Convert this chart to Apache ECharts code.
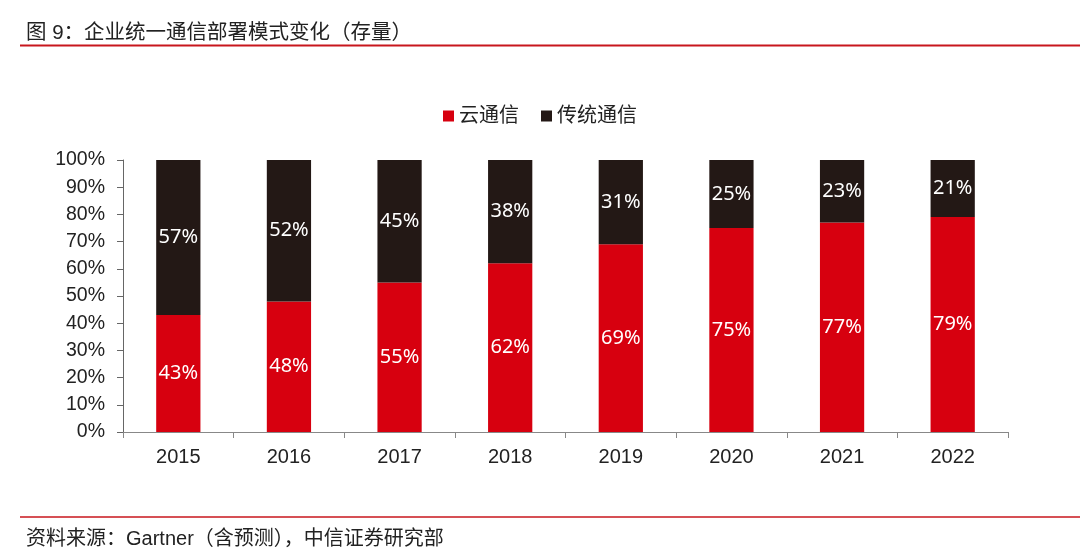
<!DOCTYPE html>
<html><head><meta charset="utf-8">
<script src="https://cdn.jsdelivr.net/npm/echarts@6/dist/echarts.min.js"></script>
<style>html,body{margin:0;padding:0;background:#fff}#c{width:1080px;height:557px}</style>
</head><body><div id="c"></div>
<script>
const categories = ['2015','2016','2017','2018','2019','2020','2021','2022'];
const cloudComm = [43,48,55,62,69,75,77,79];
const traditionalComm = [57,52,45,38,31,25,23,21];
const seriesNames = ['云通信','传统通信'];
const titleText = '图 9：企业统一通信部署模式变化（存量）';
const sourceText = '资料来源：Gartner（含预测），中信证券研究部';

const chart = echarts.init(document.getElementById('c'));
const cjk = '"Liberation Sans", "Noto Sans CJK SC", sans-serif';
const labelStyle = {show:true, position:'inside', color:'#fff', fontSize:20, fontFamily:'"Noto Sans", "Open Sans", sans-serif', formatter: p => p.value + '%'};
chart.setOption({
  animation:false,
  title:[
    {text:titleText, left:21, top:18, textStyle:{fontSize:20.5, fontWeight:'normal', color:'#222', fontFamily:cjk}},
    {text:sourceText, left:21, top:524, textStyle:{fontSize:20, fontWeight:'normal', color:'#222', fontFamily:cjk}}
  ],
  graphic:[
    {type:'line', shape:{x1:20,y1:45.5,x2:1080,y2:45.5}, style:{stroke:'#c8161d', lineWidth:2}},
    {type:'line', shape:{x1:20,y1:517,x2:1080,y2:517}, style:{stroke:'#c8161d', lineWidth:1.5}}
  ],
  legend:{top:101, left:'center', itemWidth:11, itemHeight:11, itemGap:22, icon:'rect',
    textStyle:{fontSize:20, color:'#222', fontFamily:cjk}, data:seriesNames},
  grid:{left:123, right:72, top:160, bottom:125},
  xAxis:{type:'category', data:categories, boundaryGap:true,
    axisLine:{lineStyle:{color:'#888'}},
    axisTick:{show:true, alignWithLabel:false, length:6, lineStyle:{color:'#888'}},
    axisLabel:{fontSize:20, color:'#222', margin:15, fontFamily:'"Liberation Sans", Arial, sans-serif'}},
  yAxis:{type:'value', min:0, max:100, interval:10,
    axisLine:{show:true, lineStyle:{color:'#666'}},
    axisTick:{show:true, length:6, lineStyle:{color:'#666'}},
    splitLine:{show:false},
    axisLabel:{fontSize:19.5, color:'#222', margin:18, formatter:'{value}%', fontFamily:'"Liberation Sans", Arial, sans-serif'}},
  series:[
    {name:seriesNames[0], type:'bar', stack:'a', data:cloudComm, barWidth:'40%',
      itemStyle:{color:'#d7000f'}, label:labelStyle},
    {name:seriesNames[1], type:'bar', stack:'a', data:traditionalComm, barWidth:'40%',
      itemStyle:{color:'#231815'}, label:labelStyle}
  ]
});
</script></body></html>
